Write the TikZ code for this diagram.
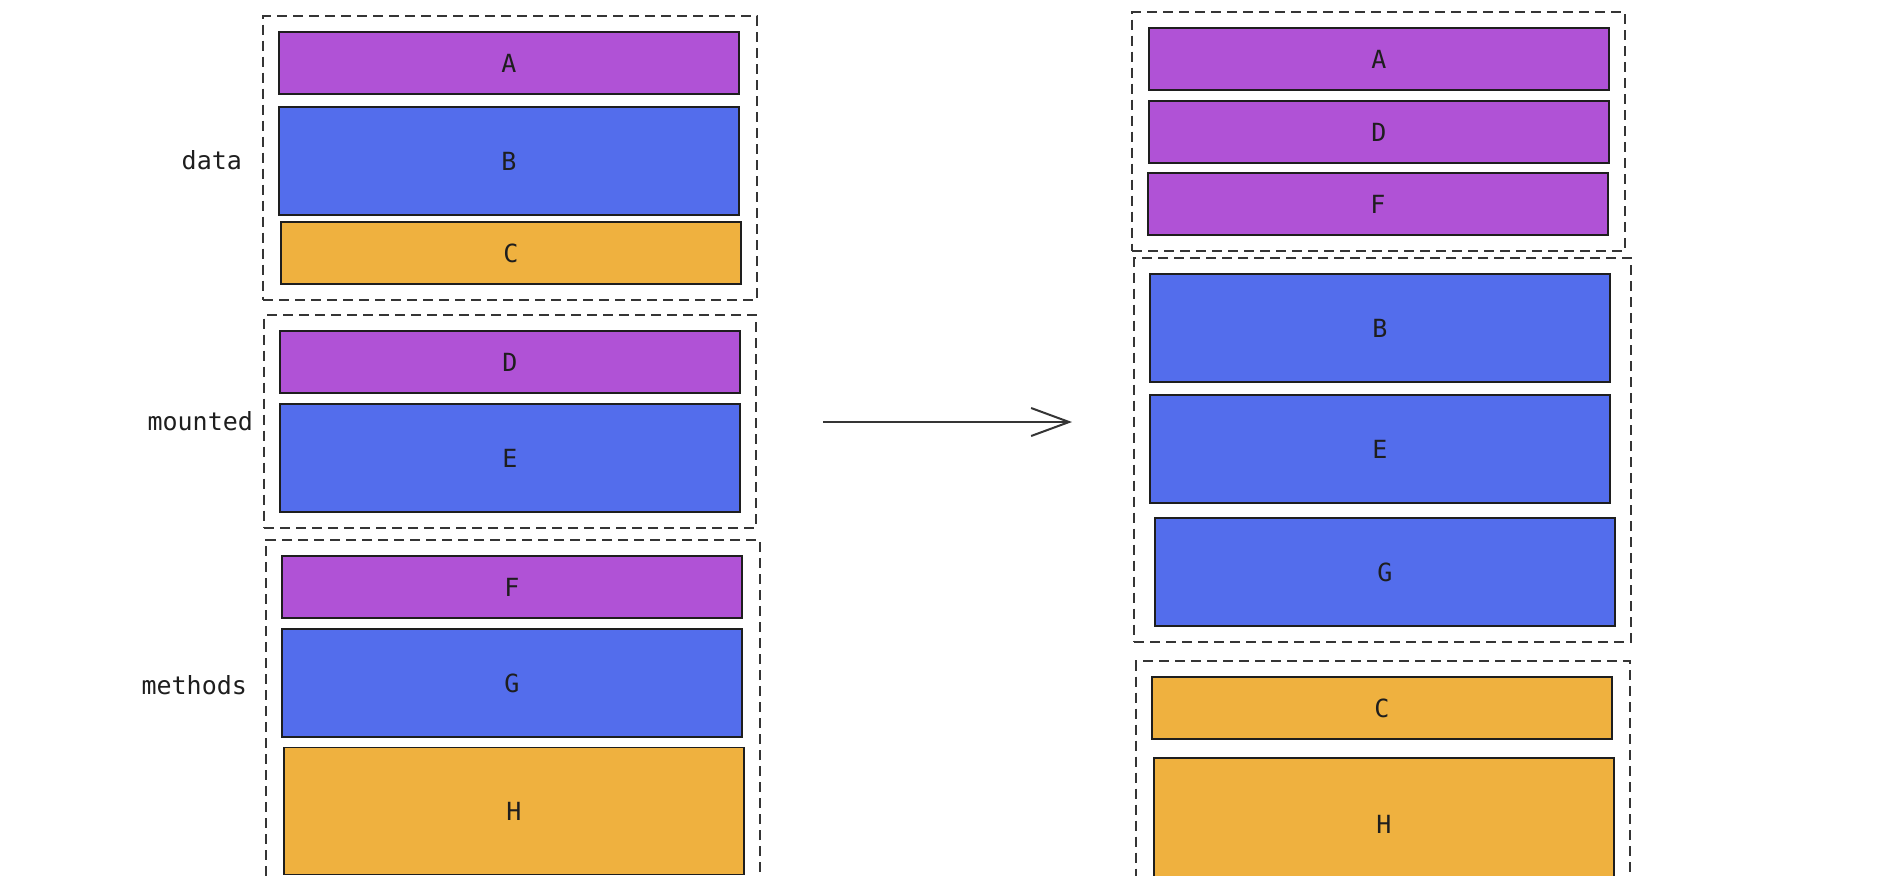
\documentclass[tikz,border=0pt]{standalone}
\usepackage{fontspec}
\setmonofont{DejaVu Sans Mono}
\usepackage{tikz}
\usetikzlibrary{positioning,arrows.meta,fit}
\definecolor{xpurple}{HTML}{B052D6}
\definecolor{xblue}{HTML}{536DEC}
\definecolor{xorange}{HTML}{EFB13F}
\definecolor{xink}{HTML}{1E1E1E}

\begin{document}
\begin{tikzpicture}[x=0.5pt, y=-0.5pt, font=\ttfamily\fontsize{12.5}{15}\selectfont,
  blk/.style={draw=xink, line width=0.9pt, minimum width=230pt, minimum height=31pt, inner sep=0pt, text=xink},
  pb/.style={blk, fill=xpurple},
  bb/.style={blk, fill=xblue},
  ob/.style={blk, fill=xorange},
  tall/.style={minimum height=54pt},
  grp/.style={draw=xink!90, line width=0.75pt, dash pattern=on 5pt off 3pt, inner sep=7.5pt},
  arr/.style={-{Straight Barb[length=19pt, width=14pt]}, line width=1pt, draw=xink!90},
  lab/.style={anchor=east, text=xink}]
\useasboundingbox (0,0) rectangle (1890,875);
\clip (0,0) rectangle (1890,875);

% --- before: blocks grouped by option ---
\node[pb] (lA) at (509,63) {A};
\node[bb, tall] (lB) at (509,161) {B};
\node[ob] (lC) at (511,253) {C};
\node[pb] (lD) at (510,362) {D};
\node[bb, tall] (lE) at (510,458) {E};
\node[pb] (lF) at (512,587) {F};
\node[bb, tall] (lG) at (512,683) {G};
\node[ob, minimum height=63.5pt] (lH) at (514,811) {H};

\node[grp, fit=(lA)(lC)] (gdata) {};
\node[grp, fit=(lD)(lE)] (gmounted) {};
\node[grp, fit=(lF)(lH)] (gmethods) {};

\node[lab] (tdata) at (249,160) {data};
\node[lab] (tmounted) at (260,421) {mounted};
\node[lab] (tmethods) at (254,685) {methods};

% --- after: blocks grouped by colour ---
\node[pb] (rA) at (1379,59) {A};
\node[pb] (rD) at (1379,132) {D};
\node[pb] (rF) at (1378,204) {F};
\node[bb, tall] (rB) at (1380,328) {B};
\node[bb, tall] (rE) at (1380,449) {E};
\node[bb, tall] (rG) at (1385,572) {G};
\node[ob] (rC) at (1382,708) {C};
\node[ob, minimum height=66pt] (rH) at (1384,824) {H};

\node[grp, fit=(rA)(rF)] (gpurple) {};
\node[grp, fit=(rB)(rG)] (gblue) {};
\node[grp, fit=(rC)(rH)] (gorange) {};

% --- arrow between the two layouts ---
\coordinate (from) at (823,422);
\coordinate (to) at (1072,422);
\draw[arr] (from) -- (to);
\end{tikzpicture}
\end{document}
